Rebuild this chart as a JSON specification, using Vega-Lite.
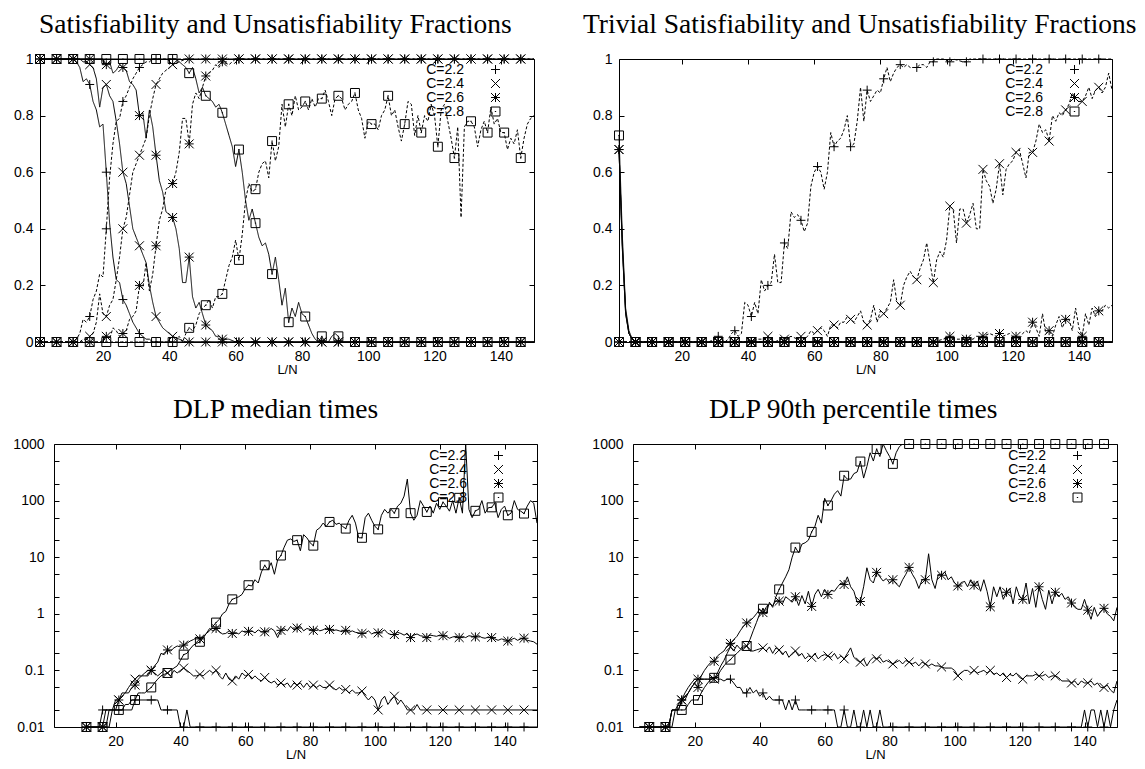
{
"$schema": "https://vega.github.io/schema/vega-lite/v6.json",
"padding": {"left": 12, "top": 10, "right": 2, "bottom": 2},
"config": {
  "view": {"stroke": "black", "strokeWidth": 1},
  "font": "Liberation Sans",
  "axis": {"domain": false, "grid": false, "tickColor": "black", "tickSize": -5, "tickWidth": 1, "labelFont": "Liberation Sans", "labelFontSize": 14, "labelColor": "black", "labelPadding": 12, "titleFont": "Liberation Sans", "titleFontSize": 13, "titleFontWeight": "normal", "titleColor": "black", "titlePadding": 0, "labelFlush": false, "labelOverlap": false, "minExtent": 0, "domainColor": "black", "domainWidth": 1},
  "title": {"font": "Liberation Serif", "fontSize": 27.5, "fontWeight": "normal", "color": "black", "baseline": "alphabetic", "offset": 14, "anchor": "start", "frame": "group"},
  "legend": {"labelFont": "Liberation Sans", "labelFontSize": 14, "labelColor": "black", "labelAlign": "right", "symbolOffset": 80, "labelOffset": -38.5, "rowPadding": 0, "padding": 0, "symbolSize": 80, "symbolStrokeWidth": 1, "symbolStrokeColor": "black", "symbolFillColor": "transparent"}
},
"datasets": {
"p1": [
{"x":1,"u22":1,"s22":0,"u24":1,"s24":0,"u26":1,"s26":0,"u28":1,"s28":0},
{"x":6,"u22":1,"s22":0,"u24":1,"s24":0,"u26":1,"s26":0,"u28":1,"s28":0},
{"x":11,"u22":1,"s22":0,"u24":1,"s24":0,"u26":1,"s26":0,"u28":1,"s28":0},
{"x":12,"u22":0.99,"s22":0.01},
{"x":13,"u22":0.97,"s22":0.03,"u24":1,"s24":0},
{"x":14,"u22":0.92,"s22":0.08,"u24":0.99,"s24":0.01},
{"x":15,"u22":0.93,"s22":0.07,"u24":0.99,"s24":0.01},
{"x":16,"u22":0.91,"s22":0.09,"u24":0.98,"s24":0.02,"u26":1,"s26":0,"u28":1,"s28":0},
{"x":17,"u22":0.85,"s22":0.15,"u24":0.97,"s24":0.03},
{"x":18,"u22":0.82,"s22":0.18,"u24":0.93,"s24":0.07},
{"x":19,"u22":0.76,"s22":0.24,"u24":0.83,"s24":0.17},
{"x":20,"u22":0.77,"s22":0.23,"u24":0.9,"s24":0.1,"u26":1,"s26":0},
{"x":21,"u22":0.6,"s22":0.4,"u24":0.91,"s24":0.09,"u26":0.98,"s26":0.02,"u28":1,"s28":0},
{"x":22,"u22":0.42,"s22":0.58,"u24":0.87,"s24":0.13,"u26":0.99,"s26":0.01},
{"x":23,"u22":0.3,"s22":0.7,"u24":0.85,"s24":0.15,"u26":0.95,"s26":0.05},
{"x":24,"u22":0.22,"s22":0.78,"u24":0.78,"s24":0.22,"u26":0.96,"s26":0.04},
{"x":25,"u22":0.21,"s22":0.79,"u24":0.7,"s24":0.3,"u26":0.98,"s26":0.02},
{"x":26,"u22":0.15,"s22":0.85,"u24":0.6,"s24":0.4,"u26":0.97,"s26":0.03,"u28":1,"s28":0},
{"x":27,"u22":0.13,"s22":0.87,"u24":0.56,"s24":0.44,"u26":0.96,"s26":0.04},
{"x":28,"u22":0.1,"s22":0.9,"u24":0.48,"s24":0.52,"u26":0.92,"s26":0.08},
{"x":29,"u22":0.07,"s22":0.93,"u24":0.4,"s24":0.6,"u26":0.91,"s26":0.09},
{"x":30,"u22":0.05,"s22":0.95,"u24":0.37,"s24":0.63,"u26":0.89,"s26":0.11},
{"x":31,"u22":0.03,"s22":0.97,"u24":0.34,"s24":0.66,"u26":0.8,"s26":0.2,"u28":1,"s28":0},
{"x":32,"u22":0.02,"s22":0.98,"u24":0.31,"s24":0.69,"u26":0.81,"s26":0.19},
{"x":33,"u22":0.01,"s22":0.99,"u24":0.28,"s24":0.72,"u26":0.72,"s26":0.28},
{"x":34,"u22":0.01,"s22":0.99,"u24":0.2,"s24":0.8,"u26":0.82,"s26":0.18},
{"x":35,"u22":0,"s22":1,"u24":0.14,"s24":0.86,"u26":0.76,"s26":0.24},
{"x":36,"u22":0,"s22":1,"u24":0.09,"s24":0.91,"u26":0.66,"s26":0.34,"u28":1,"s28":0},
{"x":37,"u24":0.07,"s24":0.93,"u26":0.57,"s26":0.43},
{"x":38,"u24":0.05,"s24":0.95,"u26":0.53,"s26":0.47},
{"x":39,"u24":0.04,"s24":0.96,"u26":0.46,"s26":0.54},
{"x":40,"u24":0.03,"s24":0.97,"u26":0.45,"s26":0.55},
{"x":41,"u22":0,"s22":1,"u24":0.02,"s24":0.98,"u26":0.44,"s26":0.56,"u28":1,"s28":0},
{"x":42,"u26":0.4,"s26":0.6,"u28":1,"s28":0.01},
{"x":43,"u24":0.01,"s24":0.99,"u26":0.33,"s26":0.67,"u28":0.99,"s28":0.02},
{"x":44,"u26":0.21,"s26":0.79,"u28":0.98,"s28":0},
{"x":45,"u24":0,"s24":1,"u26":0.21,"s26":0.79,"u28":0.97,"s28":0.03},
{"x":46,"u22":0,"s22":1,"u24":0,"s24":1,"u26":0.3,"s26":0.7,"u28":0.95,"s28":0.05},
{"x":47,"u26":0.16,"s26":0.84,"u28":0.97,"s28":0.04},
{"x":48,"u26":0.12,"s26":0.88,"u28":0.93,"s28":0.06},
{"x":49,"u26":0.14,"s26":0.86,"u28":0.88,"s28":0.1},
{"x":50,"u26":0.1,"s26":0.9,"u28":0.9,"s28":0.12},
{"x":51,"u22":0,"s22":1,"u24":0,"s24":1,"u26":0.06,"s26":0.94,"u28":0.87,"s28":0.13},
{"x":52,"u26":0.05,"s26":0.95,"u28":0.86,"s28":0.15},
{"x":53,"u26":0.04,"s26":0.96,"u28":0.85,"s28":0.12},
{"x":54,"u26":0.02,"s26":0.98,"u28":0.83,"s28":0.16},
{"x":55,"u26":0.02,"s26":0.97,"u28":0.84,"s28":0.16},
{"x":56,"u22":0,"s22":1,"u24":0,"s24":1,"u26":0.01,"s26":0.99,"u28":0.81,"s28":0.17},
{"x":57,"u28":0.77,"s28":0.22},
{"x":58,"u26":0.01,"s26":0.98,"u28":0.73,"s28":0.27},
{"x":59,"u28":0.69,"s28":0.3},
{"x":60,"u26":0,"s26":1,"u28":0.62,"s28":0.36},
{"x":61,"u22":0,"s22":1,"u24":0,"s24":1,"u26":0,"s26":1,"u28":0.68,"s28":0.29},
{"x":62,"u28":0.6,"s28":0.38},
{"x":63,"u28":0.5,"s28":0.5},
{"x":64,"u28":0.43,"s28":0.56},
{"x":65,"u28":0.47,"s28":0.53},
{"x":66,"u22":0,"s22":1,"u24":0,"s24":1,"u26":0,"s26":1,"u28":0.42,"s28":0.54},
{"x":67,"u28":0.37,"s28":0.6},
{"x":68,"u28":0.34,"s28":0.63},
{"x":69,"u28":0.35,"s28":0.64},
{"x":70,"u28":0.31,"s28":0.58},
{"x":71,"u22":0,"s22":1,"u24":0,"s24":1,"u26":0,"s26":1,"u28":0.24,"s28":0.71},
{"x":72,"u28":0.3,"s28":0.64},
{"x":73,"u28":0.22,"s28":0.69},
{"x":74,"u28":0.13,"s28":0.84},
{"x":75,"u28":0.19,"s28":0.76},
{"x":76,"u22":0,"s22":1,"u24":0,"s24":1,"u26":0,"s26":1,"u28":0.07,"s28":0.84},
{"x":77,"u28":0.12,"s28":0.8},
{"x":78,"u28":0.09,"s28":0.87},
{"x":79,"u28":0.14,"s28":0.82},
{"x":80,"u28":0.1,"s28":0.83},
{"x":81,"u22":0,"s22":1,"u24":0,"s24":1,"u26":0,"s26":1,"u28":0.09,"s28":0.85},
{"x":82,"u28":0.06,"s28":0.82},
{"x":83,"u28":0.03,"s28":0.86},
{"x":84,"u28":0.01,"s28":0.83},
{"x":85,"u28":0,"s28":0.86},
{"x":86,"u22":0,"s22":1,"u24":0,"s24":1,"u26":0,"s26":1,"u28":0.02,"s28":0.86},
{"x":87,"u28":0,"s28":0.89},
{"x":88,"u28":0,"s28":0.85},
{"x":89,"u28":0.02,"s28":0.8},
{"x":90,"u28":0.03,"s28":0.86},
{"x":91,"u22":0,"s22":1,"u24":0,"s24":1,"u26":0,"s26":1,"u28":0.02,"s28":0.87},
{"x":92,"u28":0,"s28":0.86},
{"x":93,"s28":0.82},
{"x":94,"s28":0.84},
{"x":95,"s28":0.85},
{"x":96,"u22":0,"s22":1,"u24":0,"s24":1,"u26":0,"s26":1,"u28":0,"s28":0.88},
{"x":97,"s28":0.82},
{"x":98,"s28":0.79},
{"x":99,"s28":0.72},
{"x":100,"s28":0.78},
{"x":101,"u22":0,"s22":1,"u24":0,"s24":1,"u26":0,"s26":1,"u28":0,"s28":0.77},
{"x":102,"s28":0.77},
{"x":103,"s28":0.75},
{"x":104,"s28":0.8},
{"x":105,"s28":0.82},
{"x":106,"u22":0,"s22":1,"u24":0,"s24":1,"u26":0,"s26":1,"u28":0,"s28":0.87},
{"x":107,"s28":0.8},
{"x":108,"s28":0.82},
{"x":109,"s28":0.76},
{"x":110,"s28":0.71},
{"x":111,"u22":0,"s22":1,"u24":0,"s24":1,"u26":0,"s26":1,"u28":0,"s28":0.77},
{"x":112,"s28":0.85},
{"x":113,"s28":0.84},
{"x":114,"s28":0.73},
{"x":115,"s28":0.8},
{"x":116,"u22":0,"s22":1,"u24":0,"s24":1,"u26":0,"s26":1,"u28":0,"s28":0.74},
{"x":117,"s28":0.8},
{"x":118,"s28":0.78},
{"x":119,"s28":0.84},
{"x":120,"s28":0.8},
{"x":121,"u22":0,"s22":1,"u24":0,"s24":1,"u26":0,"s26":1,"u28":0,"s28":0.69},
{"x":122,"s28":0.82},
{"x":123,"s28":0.84},
{"x":124,"s28":0.78},
{"x":125,"s28":0.72},
{"x":126,"u22":0,"s22":1,"u24":0,"s24":1,"u26":0,"s26":1,"u28":0,"s28":0.65},
{"x":127,"s28":0.76},
{"x":128,"s28":0.44},
{"x":129,"s28":0.76},
{"x":130,"s28":0.78},
{"x":131,"u22":0,"s22":1,"u24":0,"s24":1,"u26":0,"s26":1,"u28":0,"s28":0.78},
{"x":132,"s28":0.76},
{"x":133,"s28":0.69},
{"x":134,"s28":0.75},
{"x":135,"s28":0.78},
{"x":136,"u22":0,"s22":1,"u24":0,"s24":1,"u26":0,"s26":1,"u28":0,"s28":0.74},
{"x":137,"s28":0.83},
{"x":138,"s28":0.77},
{"x":139,"s28":0.79},
{"x":140,"s28":0.74},
{"x":141,"u22":0,"s22":1,"u24":0,"s24":1,"u26":0,"s26":1,"u28":0,"s28":0.74},
{"x":142,"s28":0.68},
{"x":143,"s28":0.72},
{"x":144,"s28":0.7},
{"x":145,"s28":0.75},
{"x":146,"u22":0,"s22":1,"u24":0,"s24":1,"u26":0,"s26":1,"u28":0,"s28":0.65},
{"x":147,"s28":0.72},
{"x":148,"s28":0.77},
{"x":149,"s28":0.79},
{"x":150,"u22":0,"s22":1,"u24":0,"s24":1,"u26":0,"s26":1,"u28":0,"s28":0.8}
],
"p2": [
{"x":1,"u22":0.68,"u24":0.68,"u26":0.68,"u28":0.73,"s22":0,"s24":0,"s26":0,"s28":0},
{"x":2,"u22":0.33,"u24":0.34,"u26":0.35,"u28":0.38},
{"x":3,"u22":0.1,"u24":0.1,"u26":0.11,"u28":0.12},
{"x":4,"u22":0.03,"u24":0.03,"u26":0.03,"u28":0.04},
{"x":5,"u22":0.01,"u24":0.01,"u26":0.01,"u28":0.01},
{"x":6,"u22":0,"u24":0,"u26":0,"u28":0,"s22":0,"s24":0,"s26":0,"s28":0},
{"x":11,"u22":0,"u24":0,"u26":0,"u28":0,"s22":0,"s24":0,"s26":0,"s28":0},
{"x":16,"u22":0,"u24":0,"u26":0,"u28":0,"s22":0,"s24":0,"s26":0,"s28":0},
{"x":21,"u22":0,"u24":0,"u26":0,"u28":0,"s22":0,"s24":0,"s26":0,"s28":0},
{"x":26,"u22":0,"u24":0,"u26":0,"u28":0,"s22":0,"s24":0,"s26":0,"s28":0},
{"x":28,"s22":0},
{"x":30,"s22":0.01},
{"x":31,"u22":0,"u24":0,"u26":0,"u28":0,"s22":0.02,"s24":0,"s26":0,"s28":0},
{"x":32,"s22":0.01},
{"x":33,"s22":0},
{"x":34,"s22":0.01},
{"x":35,"s22":0.03},
{"x":36,"u22":0,"u24":0,"u26":0,"u28":0,"s22":0.04,"s24":0,"s26":0,"s28":0},
{"x":37,"s22":0.02},
{"x":38,"s22":0.03},
{"x":39,"s22":0.14},
{"x":40,"s22":0.13},
{"x":41,"u22":0,"u24":0,"u26":0,"u28":0,"s22":0.09,"s24":0,"s26":0,"s28":0},
{"x":42,"s22":0.14},
{"x":43,"s22":0.1,"s24":0.01},
{"x":44,"s22":0.22},
{"x":45,"s22":0.18,"s24":0.01},
{"x":46,"u22":0,"u24":0,"u26":0,"u28":0,"s22":0.2,"s24":0.02,"s26":0,"s28":0},
{"x":47,"s22":0.21,"s24":0.01},
{"x":48,"s22":0.31,"s24":0},
{"x":49,"s22":0.21},
{"x":50,"s22":0.21,"s24":0.01},
{"x":51,"u22":0,"u24":0,"u26":0,"u28":0,"s22":0.35,"s24":0.01,"s26":0,"s28":0},
{"x":52,"s22":0.33},
{"x":53,"s22":0.46,"s24":0.02},
{"x":54,"s22":0.44},
{"x":55,"s22":0.45,"s24":0.01},
{"x":56,"u22":0,"u24":0,"u26":0,"u28":0,"s22":0.43,"s24":0.02,"s26":0,"s28":0},
{"x":57,"s22":0.39,"s24":0.01},
{"x":58,"s22":0.42,"s24":0.02},
{"x":59,"s22":0.55,"s24":0.04},
{"x":60,"s22":0.6,"s24":0.03},
{"x":61,"u22":0,"u24":0,"u26":0,"u28":0,"s22":0.62,"s24":0.04,"s26":0,"s28":0},
{"x":62,"s22":0.6,"s24":0.05},
{"x":63,"s22":0.54,"s24":0.04},
{"x":64,"s22":0.6,"s24":0.02},
{"x":65,"s22":0.74,"s24":0.06},
{"x":66,"u22":0,"u24":0,"u26":0,"u28":0,"s22":0.69,"s24":0.06,"s26":0,"s28":0},
{"x":67,"s22":0.71,"s24":0.05},
{"x":68,"s22":0.72,"s24":0.07},
{"x":69,"s22":0.75,"s24":0.07},
{"x":70,"s22":0.8,"s24":0.09},
{"x":71,"u22":0,"u24":0,"u26":0,"u28":0,"s22":0.69,"s24":0.08,"s26":0,"s28":0},
{"x":72,"s22":0.7,"s24":0.07},
{"x":73,"s22":0.78,"s24":0.09},
{"x":74,"s22":0.9,"s24":0.11},
{"x":75,"s22":0.78,"s24":0.07},
{"x":76,"u22":0,"u24":0,"u26":0,"u28":0,"s22":0.89,"s24":0.06,"s26":0,"s28":0},
{"x":77,"s22":0.85,"s24":0.08},
{"x":78,"s22":0.87,"s24":0.13},
{"x":79,"s22":0.89,"s24":0.07},
{"x":80,"s22":0.88,"s24":0.11},
{"x":81,"u22":0,"u24":0,"u26":0,"u28":0,"s22":0.93,"s24":0.1,"s26":0,"s28":0},
{"x":82,"s22":0.97,"s24":0.12},
{"x":83,"s22":0.92,"s24":0.14},
{"x":84,"s22":0.95,"s24":0.22},
{"x":85,"s22":0.97,"s24":0.14},
{"x":86,"u22":0,"u24":0,"u26":0,"u28":0,"s22":0.98,"s24":0.13,"s26":0,"s28":0},
{"x":87,"s22":0.97,"s24":0.2},
{"x":88,"s22":0.98,"s24":0.23},
{"x":89,"s22":0.97,"s24":0.25},
{"x":90,"s22":0.97,"s24":0.23},
{"x":91,"u22":0,"u24":0,"u26":0,"u28":0,"s22":0.97,"s24":0.22,"s26":0,"s28":0},
{"x":92,"s22":0.98,"s24":0.26},
{"x":93,"s22":0.98,"s24":0.29},
{"x":94,"s22":0.97,"s24":0.35},
{"x":95,"s22":0.99,"s24":0.28},
{"x":96,"u22":0,"u24":0,"u26":0,"u28":0,"s22":0.99,"s24":0.21,"s26":0,"s28":0},
{"x":97,"s22":1,"s24":0.29},
{"x":98,"s24":0.32},
{"x":99,"s22":1,"s24":0.3,"s26":0.01},
{"x":100,"s24":0.36},
{"x":101,"u22":0,"u24":0,"u26":0,"u28":0,"s22":0.99,"s24":0.48,"s26":0.02,"s28":0},
{"x":102,"s22":1,"s24":0.47,"s26":0.01},
{"x":103,"s24":0.35},
{"x":104,"s24":0.47,"s26":0.01},
{"x":105,"s22":0.99,"s24":0.47},
{"x":106,"u22":0,"u24":0,"u26":0,"u28":0,"s22":0.99,"s24":0.42,"s26":0.01,"s28":0},
{"x":107,"s22":1,"s24":0.45},
{"x":108,"s24":0.49,"s26":0.01},
{"x":109,"s24":0.4,"s26":0.02},
{"x":110,"s24":0.4},
{"x":111,"u22":0,"u24":0,"u26":0,"u28":0,"s22":1,"s24":0.61,"s26":0.02,"s28":0},
{"x":112,"s24":0.57},
{"x":113,"s24":0.55,"s26":0.03},
{"x":114,"s24":0.49},
{"x":115,"s24":0.54,"s26":0.02},
{"x":116,"u22":0,"u24":0,"u26":0,"u28":0,"s22":1,"s24":0.63,"s26":0.03,"s28":0},
{"x":117,"s24":0.52,"s26":0.02},
{"x":118,"s24":0.61},
{"x":119,"s24":0.63,"s26":0.03},
{"x":120,"s24":0.64,"s26":0.02},
{"x":121,"u22":0,"u24":0,"u26":0,"u28":0,"s22":1,"s24":0.67,"s26":0.02,"s28":0},
{"x":122,"s24":0.68,"s26":0.01},
{"x":123,"s24":0.63,"s26":0.03},
{"x":124,"s24":0.58,"s26":0.04},
{"x":125,"s24":0.67,"s26":0.03},
{"x":126,"u22":0,"u24":0,"u26":0,"u28":0,"s22":1,"s24":0.67,"s26":0.07,"s28":0},
{"x":127,"s24":0.71,"s26":0.05},
{"x":128,"s24":0.77,"s26":0.02},
{"x":129,"s24":0.74,"s26":0.1},
{"x":130,"s24":0.75,"s26":0.03},
{"x":131,"u22":0,"u24":0,"u26":0,"u28":0,"s22":1,"s24":0.71,"s26":0.04,"s28":0},
{"x":132,"s24":0.8,"s26":0.02},
{"x":133,"s24":0.78,"s26":0.06},
{"x":134,"s24":0.81,"s26":0.09},
{"x":135,"s24":0.8,"s26":0.05},
{"x":136,"u22":0,"u24":0,"u26":0,"u28":0,"s22":1,"s24":0.82,"s26":0.08,"s28":0},
{"x":137,"s24":0.84,"s26":0.08},
{"x":138,"s24":0.88,"s26":0.04},
{"x":139,"s24":0.86,"s26":0.12},
{"x":140,"s24":0.85,"s26":0.05},
{"x":141,"u22":0,"u24":0,"u26":0,"u28":0,"s22":1,"s24":0.85,"s26":0.02,"s28":0},
{"x":142,"s24":0.87,"s26":0.1},
{"x":143,"s24":0.9,"s26":0.06},
{"x":144,"s24":0.86,"s26":0.12},
{"x":145,"s24":0.89,"s26":0.09},
{"x":146,"u22":0,"u24":0,"u26":0,"u28":0,"s22":1,"s24":0.9,"s26":0.11,"s28":0},
{"x":147,"s24":0.88,"s26":0.11},
{"x":148,"s24":0.9,"s26":0.13},
{"x":149,"s24":0.95,"s26":0.12},
{"x":150,"u22":0,"u24":0,"u26":0,"u28":0,"s22":1,"s24":0.89,"s26":0.13,"s28":0}
],
"p3": [
{"x":11,"u22":0.01,"u24":0.01,"u26":0.01,"u28":0.01},
{"x":15,"u22":0.01},
{"x":16,"u22":0.02,"u24":0.01,"u26":0.01,"u28":0.01},
{"x":17,"u24":0.02,"u26":0.01},
{"x":18,"u26":0.02,"u28":0.01},
{"x":19,"u24":0.02,"u28":0.02},
{"x":20,"u24":0.03,"u26":0.02},
{"x":21,"u22":0.02,"u24":0.03,"u26":0.03,"u28":0.02},
{"x":22,"u24":0.04,"u26":0.035,"u28":0.02},
{"x":23,"u24":0.04,"u26":0.04,"u28":0.025},
{"x":24,"u24":0.05,"u26":0.04,"u28":0.025},
{"x":25,"u22":0.02,"u24":0.06,"u26":0.05,"u28":0.03},
{"x":26,"u22":0.03,"u24":0.07,"u26":0.055,"u28":0.03},
{"x":27,"u24":0.08,"u26":0.07,"u28":0.04},
{"x":28,"u24":0.08,"u26":0.08,"u28":0.04},
{"x":29,"u24":0.08,"u26":0.09,"u28":0.04},
{"x":30,"u24":0.08,"u26":0.1,"u28":0.045},
{"x":31,"u22":0.03,"u24":0.1,"u26":0.1,"u28":0.05},
{"x":32,"u24":0.09,"u26":0.12,"u28":0.06},
{"x":33,"u22":0.03,"u24":0.08,"u26":0.14,"u28":0.07},
{"x":34,"u22":0.02,"u24":0.09,"u26":0.2,"u28":0.08},
{"x":35,"u24":0.1,"u26":0.19,"u28":0.085},
{"x":36,"u22":0.02,"u24":0.09,"u26":0.23,"u28":0.09},
{"x":37,"u24":0.08,"u26":0.22,"u28":0.1},
{"x":38,"u24":0.1,"u26":0.25,"u28":0.11},
{"x":39,"u22":0.02,"u24":0.09,"u26":0.27,"u28":0.12},
{"x":40,"u22":0.01,"u24":0.1,"u26":0.26,"u28":0.15},
{"x":41,"u22":0.01,"u24":0.11,"u26":0.28,"u28":0.19},
{"x":42,"u22":0.02,"u24":0.1,"u26":0.3,"u28":0.2},
{"x":43,"u22":0.01,"u24":0.09,"u26":0.33,"u28":0.24},
{"x":44,"u24":0.08,"u26":0.35,"u28":0.28},
{"x":45,"u24":0.08,"u26":0.38,"u28":0.3},
{"x":46,"u22":0.01,"u24":0.085,"u26":0.36,"u28":0.32},
{"x":47,"u24":0.08,"u26":0.38,"u28":0.38},
{"x":48,"u24":0.09,"u26":0.45,"u28":0.45},
{"x":49,"u24":0.1,"u26":0.55,"u28":0.5},
{"x":50,"u24":0.09,"u26":0.5,"u28":0.6},
{"x":51,"u22":0.01,"u24":0.1,"u26":0.55,"u28":0.7},
{"x":52,"u24":0.08,"u26":0.48,"u28":0.8},
{"x":53,"u24":0.07,"u26":0.44,"u28":1},
{"x":54,"u24":0.09,"u26":0.45,"u28":1.1},
{"x":55,"u24":0.07,"u26":0.5,"u28":1.5},
{"x":56,"u22":0.01,"u24":0.065,"u26":0.45,"u28":1.8},
{"x":57,"u24":0.08,"u26":0.47,"u28":1.9},
{"x":58,"u24":0.07,"u26":0.44,"u28":2},
{"x":59,"u24":0.09,"u26":0.5,"u28":2.2},
{"x":60,"u24":0.08,"u26":0.47,"u28":2.8},
{"x":61,"u22":0.01,"u24":0.085,"u26":0.49,"u28":3.2},
{"x":62,"u24":0.07,"u26":0.5,"u28":3.1},
{"x":63,"u24":0.08,"u26":0.46,"u28":4},
{"x":64,"u24":0.07,"u26":0.52,"u28":3.5},
{"x":65,"u24":0.065,"u26":0.48,"u28":5.5},
{"x":66,"u22":0.01,"u24":0.075,"u26":0.48,"u28":7.2},
{"x":67,"u24":0.065,"u26":0.5,"u28":6},
{"x":68,"u24":0.06,"u26":0.55,"u28":8},
{"x":69,"u24":0.065,"u26":0.5,"u28":5},
{"x":70,"u24":0.055,"u26":0.38,"u28":9},
{"x":71,"u22":0.01,"u24":0.06,"u26":0.51,"u28":10.7},
{"x":72,"u24":0.055,"u26":0.55,"u28":15},
{"x":73,"u24":0.06,"u26":0.5,"u28":20},
{"x":74,"u24":0.05,"u26":0.6,"u28":21},
{"x":75,"u24":0.06,"u26":0.52,"u28":19},
{"x":76,"u22":0.01,"u24":0.055,"u26":0.56,"u28":20},
{"x":77,"u24":0.06,"u26":0.6,"u28":13},
{"x":78,"u24":0.05,"u26":0.5,"u28":25},
{"x":79,"u24":0.06,"u26":0.55,"u28":22},
{"x":80,"u24":0.05,"u26":0.53,"u28":18},
{"x":81,"u22":0.01,"u24":0.055,"u26":0.51,"u28":16},
{"x":82,"u24":0.05,"u26":0.55,"u28":30},
{"x":83,"u24":0.055,"u26":0.5,"u28":33},
{"x":84,"u24":0.05,"u26":0.52,"u28":40},
{"x":85,"u24":0.05,"u26":0.56,"u28":35},
{"x":86,"u22":0.01,"u24":0.055,"u26":0.53,"u28":42},
{"x":87,"u24":0.05,"u26":0.5,"u28":45},
{"x":88,"u24":0.045,"u26":0.52,"u28":38},
{"x":89,"u24":0.05,"u26":0.5,"u28":40},
{"x":90,"u24":0.045,"u26":0.48,"u28":35},
{"x":91,"u22":0.01,"u24":0.046,"u26":0.51,"u28":32},
{"x":92,"u24":0.04,"u26":0.47,"u28":45},
{"x":93,"u24":0.045,"u26":0.5,"u28":55},
{"x":94,"u24":0.04,"u26":0.47,"u28":40},
{"x":95,"u24":0.04,"u26":0.46,"u28":22},
{"x":96,"u22":0.01,"u24":0.043,"u26":0.45,"u28":22},
{"x":97,"u24":0.035,"u26":0.46,"u28":50},
{"x":98,"u24":0.03,"u26":0.5,"u28":60},
{"x":99,"u24":0.035,"u26":0.44,"u28":45},
{"x":100,"u24":0.03,"u26":0.47,"u28":35},
{"x":101,"u22":0.01,"u24":0.02,"u26":0.46,"u28":31},
{"x":102,"u24":0.03,"u26":0.48,"u28":55},
{"x":103,"u24":0.035,"u26":0.52,"u28":70},
{"x":104,"u24":0.025,"u26":0.45,"u28":60},
{"x":105,"u24":0.03,"u26":0.43,"u28":70},
{"x":106,"u22":0.01,"u24":0.035,"u26":0.43,"u28":60},
{"x":107,"u24":0.025,"u26":0.47,"u28":80},
{"x":108,"u24":0.03,"u26":0.45,"u28":90},
{"x":109,"u24":0.025,"u26":0.42,"u28":120},
{"x":110,"u24":0.02,"u26":0.45,"u28":240},
{"x":111,"u22":0.01,"u24":0.02,"u26":0.38,"u28":60},
{"x":112,"u24":0.02,"u26":0.42,"u28":45},
{"x":113,"u24":0.025,"u26":0.44,"u28":55},
{"x":114,"u24":0.02,"u26":0.41,"u28":100},
{"x":115,"u24":0.02,"u26":0.4,"u28":80},
{"x":116,"u22":0.01,"u24":0.02,"u26":0.38,"u28":63},
{"x":117,"u26":0.42,"u28":80},
{"x":118,"u26":0.41,"u28":60},
{"x":119,"u26":0.4,"u28":90},
{"x":120,"u26":0.42,"u28":70},
{"x":121,"u22":0.01,"u24":0.02,"u26":0.41,"u28":94},
{"x":122,"u26":0.4,"u28":80},
{"x":123,"u26":0.37,"u28":65},
{"x":124,"u26":0.39,"u28":100},
{"x":125,"u26":0.4,"u28":60},
{"x":126,"u22":0.01,"u24":0.02,"u26":0.38,"u28":112},
{"x":127,"u26":0.4,"u28":60},
{"x":128,"u26":0.38,"u28":1000},
{"x":129,"u26":0.41,"u28":70},
{"x":130,"u26":0.4,"u28":50},
{"x":131,"u22":0.01,"u24":0.02,"u26":0.39,"u28":66},
{"x":132,"u26":0.41,"u28":70},
{"x":133,"u26":0.38,"u28":100},
{"x":134,"u26":0.37,"u28":60},
{"x":135,"u26":0.39,"u28":75},
{"x":136,"u22":0.01,"u24":0.02,"u26":0.38,"u28":76},
{"x":137,"u26":0.36,"u28":90},
{"x":138,"u26":0.34,"u28":50},
{"x":139,"u26":0.36,"u28":70},
{"x":140,"u26":0.35,"u28":80},
{"x":141,"u22":0.01,"u24":0.02,"u26":0.33,"u28":55},
{"x":142,"u26":0.35,"u28":60},
{"x":143,"u26":0.37,"u28":100},
{"x":144,"u26":0.34,"u28":70},
{"x":145,"u26":0.36,"u28":65},
{"x":146,"u22":0.01,"u24":0.02,"u26":0.37,"u28":59},
{"x":147,"u26":0.34,"u28":80},
{"x":148,"u26":0.33,"u28":100},
{"x":149,"u26":0.32,"u28":90},
{"x":150,"u22":0.01,"u24":0.02,"u26":0.29,"u28":40}
],
"p4": [
{"x":3,"u22":0.01,"u24":0.01,"u26":0.01,"u28":0.01},
{"x":6,"u22":0.01,"u24":0.01,"u26":0.01,"u28":0.01},
{"x":11,"u22":0.01,"u24":0.01,"u26":0.01,"u28":0.01},
{"x":12,"u22":0.01,"u24":0.01,"u26":0.01,"u28":0.01},
{"x":13,"u22":0.02,"u24":0.02,"u26":0.02,"u28":0.01},
{"x":14,"u22":0.02,"u24":0.02,"u26":0.02,"u28":0.02},
{"x":15,"u22":0.02,"u24":0.025,"u26":0.02,"u28":0.02},
{"x":16,"u22":0.03,"u24":0.03,"u26":0.03,"u28":0.02},
{"x":17,"u22":0.04,"u24":0.035,"u26":0.03,"u28":0.02},
{"x":18,"u22":0.05,"u24":0.04,"u26":0.04,"u28":0.025},
{"x":19,"u22":0.06,"u24":0.05,"u26":0.05,"u28":0.03},
{"x":20,"u22":0.07,"u24":0.06,"u26":0.06,"u28":0.03},
{"x":21,"u22":0.07,"u24":0.07,"u26":0.05,"u28":0.03},
{"x":22,"u22":0.07,"u24":0.07,"u26":0.08,"u28":0.04},
{"x":23,"u22":0.07,"u24":0.07,"u26":0.1,"u28":0.05},
{"x":24,"u22":0.07,"u24":0.07,"u26":0.12,"u28":0.06},
{"x":25,"u22":0.07,"u24":0.07,"u26":0.14,"u28":0.07},
{"x":26,"u22":0.075,"u24":0.07,"u26":0.145,"u28":0.074},
{"x":27,"u22":0.07,"u24":0.09,"u26":0.18,"u28":0.08},
{"x":28,"u22":0.07,"u24":0.12,"u26":0.2,"u28":0.1},
{"x":29,"u22":0.065,"u24":0.15,"u26":0.22,"u28":0.12},
{"x":30,"u22":0.07,"u24":0.2,"u26":0.27,"u28":0.14},
{"x":31,"u22":0.07,"u24":0.26,"u26":0.3,"u28":0.155},
{"x":32,"u22":0.06,"u24":0.22,"u26":0.35,"u28":0.18},
{"x":33,"u22":0.05,"u24":0.28,"u26":0.4,"u28":0.2},
{"x":34,"u22":0.05,"u24":0.24,"u26":0.5,"u28":0.23},
{"x":35,"u22":0.04,"u24":0.27,"u26":0.6,"u28":0.25},
{"x":36,"u22":0.04,"u24":0.27,"u26":0.69,"u28":0.27},
{"x":37,"u22":0.05,"u24":0.22,"u26":0.75,"u28":0.35},
{"x":38,"u22":0.04,"u24":0.22,"u26":0.85,"u28":0.5},
{"x":39,"u22":0.045,"u24":0.23,"u26":1,"u28":0.7},
{"x":40,"u22":0.035,"u24":0.24,"u26":1.2,"u28":1},
{"x":41,"u22":0.04,"u24":0.25,"u26":1.05,"u28":1.23},
{"x":42,"u22":0.03,"u24":0.22,"u26":1.3,"u28":1},
{"x":43,"u22":0.035,"u24":0.26,"u26":1.5,"u28":1.6},
{"x":44,"u22":0.03,"u24":0.2,"u26":1.4,"u28":1.3},
{"x":45,"u22":0.03,"u24":0.25,"u26":1.7,"u28":2},
{"x":46,"u22":0.03,"u24":0.23,"u26":1.67,"u28":2.7},
{"x":47,"u22":0.03,"u24":0.19,"u26":1.5,"u28":3.5},
{"x":48,"u22":0.02,"u24":0.22,"u26":2,"u28":4.5},
{"x":49,"u22":0.03,"u24":0.17,"u26":1.8,"u28":6},
{"x":50,"u22":0.02,"u24":0.2,"u26":1.6,"u28":10},
{"x":51,"u22":0.03,"u24":0.22,"u26":2,"u28":14.8},
{"x":52,"u22":0.02,"u24":0.18,"u26":1.4,"u28":12},
{"x":53,"u22":0.02,"u24":0.2,"u26":2.1,"u28":17},
{"x":54,"u22":0.02,"u24":0.16,"u26":1.5,"u28":18},
{"x":55,"u22":0.02,"u24":0.18,"u26":2.5,"u28":20},
{"x":56,"u22":0.02,"u24":0.17,"u26":1.35,"u28":28},
{"x":57,"u22":0.02,"u24":0.2,"u26":2.2,"u28":35},
{"x":58,"u22":0.02,"u24":0.16,"u26":2.7,"u28":55},
{"x":59,"u22":0.02,"u24":0.18,"u26":2,"u28":40},
{"x":60,"u22":0.02,"u24":0.19,"u26":2.7,"u28":110},
{"x":61,"u22":0.02,"u24":0.18,"u26":2.2,"u28":82},
{"x":62,"u22":0.02,"u24":0.17,"u26":2.6,"u28":100},
{"x":63,"u22":0.02,"u24":0.2,"u26":2.5,"u28":130},
{"x":64,"u22":0.01,"u24":0.16,"u26":3,"u28":150},
{"x":65,"u22":0.01,"u24":0.18,"u26":3.5,"u28":120},
{"x":66,"u22":0.02,"u24":0.16,"u26":3.3,"u28":275},
{"x":67,"u22":0.01,"u24":0.2,"u26":4.5,"u28":240},
{"x":68,"u22":0.01,"u24":0.25,"u26":3,"u28":240},
{"x":69,"u22":0.02,"u24":0.17,"u26":2.5,"u28":300},
{"x":70,"u22":0.01,"u24":0.15,"u26":1.6,"u28":320},
{"x":71,"u22":0.01,"u24":0.14,"u26":1.65,"u28":490},
{"x":72,"u22":0.02,"u24":0.16,"u26":3,"u28":250},
{"x":73,"u22":0.01,"u24":0.12,"u26":6.5,"u28":400},
{"x":74,"u22":0.02,"u24":0.15,"u26":4,"u28":700},
{"x":75,"u22":0.01,"u24":0.17,"u26":3.5,"u28":500},
{"x":76,"u22":0.01,"u24":0.16,"u26":5.4,"u28":815},
{"x":77,"u22":0.02,"u24":0.17,"u26":4.5,"u28":600},
{"x":78,"u22":0.01,"u24":0.14,"u26":3.8,"u28":1000},
{"x":79,"u24":0.15,"u26":4.2,"u28":760},
{"x":80,"u24":0.14,"u26":3.5,"u28":600},
{"x":81,"u22":0.01,"u24":0.13,"u26":4,"u28":445},
{"x":82,"u24":0.14,"u26":3.4,"u28":700},
{"x":83,"u24":0.15,"u26":3,"u28":900},
{"x":84,"u24":0.13,"u26":4,"u28":1000},
{"x":85,"u24":0.15,"u26":5,"u28":1000},
{"x":86,"u22":0.01,"u24":0.14,"u26":6.6,"u28":1000},
{"x":87,"u24":0.13,"u26":5},
{"x":88,"u24":0.14,"u26":4},
{"x":89,"u24":0.12,"u26":2.8},
{"x":90,"u24":0.14,"u26":4},
{"x":91,"u22":0.01,"u24":0.13,"u26":4,"u28":1000},
{"x":92,"u24":0.12,"u26":11.5},
{"x":93,"u24":0.13,"u26":4},
{"x":94,"u24":0.12,"u26":2.8},
{"x":95,"u24":0.12,"u26":5},
{"x":96,"u22":0.01,"u24":0.115,"u26":4.8,"u28":1000},
{"x":97,"u24":0.11,"u26":5.5},
{"x":98,"u24":0.11,"u26":4},
{"x":99,"u24":0.11,"u26":4.5},
{"x":100,"u24":0.1,"u26":3.5},
{"x":101,"u22":0.01,"u24":0.08,"u26":3.1,"u28":1000},
{"x":102,"u24":0.09,"u26":3.3},
{"x":103,"u24":0.1,"u26":3.8},
{"x":104,"u24":0.1,"u26":3},
{"x":105,"u24":0.09,"u26":4},
{"x":106,"u22":0.01,"u24":0.1,"u26":3.2,"u28":1000},
{"x":107,"u24":0.09,"u26":3.8},
{"x":108,"u24":0.095,"u26":2.5},
{"x":109,"u24":0.1,"u26":4},
{"x":110,"u24":0.09,"u26":2.5},
{"x":111,"u22":0.01,"u24":0.1,"u26":1.33,"u28":1000},
{"x":112,"u24":0.085,"u26":3},
{"x":113,"u24":0.09,"u26":2},
{"x":114,"u24":0.08,"u26":3},
{"x":115,"u24":0.09,"u26":1.8},
{"x":116,"u22":0.01,"u24":0.075,"u26":2.4,"u28":1000},
{"x":117,"u24":0.085,"u26":2.8},
{"x":118,"u24":0.08,"u26":1.5},
{"x":119,"u24":0.09,"u26":3},
{"x":120,"u24":0.075,"u26":2},
{"x":121,"u22":0.01,"u24":0.07,"u26":1.8,"u28":1000},
{"x":122,"u24":0.08,"u26":3.5},
{"x":123,"u24":0.08,"u26":1.5},
{"x":124,"u24":0.08,"u26":2.8},
{"x":125,"u24":0.085,"u26":1.3},
{"x":126,"u22":0.01,"u24":0.08,"u26":3,"u28":1000},
{"x":127,"u24":0.08,"u26":1.8},
{"x":128,"u24":0.085,"u26":1.2},
{"x":129,"u24":0.075,"u26":2.6},
{"x":130,"u24":0.08,"u26":1.5},
{"x":131,"u22":0.01,"u24":0.08,"u26":2.4,"u28":1000},
{"x":132,"u24":0.075,"u26":2},
{"x":133,"u24":0.065,"u26":2.3},
{"x":134,"u24":0.065,"u26":1.8},
{"x":135,"u24":0.065,"u26":2},
{"x":136,"u22":0.01,"u24":0.06,"u26":1.55,"u28":1000},
{"x":137,"u24":0.065,"u26":1.3},
{"x":138,"u24":0.055,"u26":1.2},
{"x":139,"u22":0.01,"u24":0.065,"u26":1.2},
{"x":140,"u22":0.02,"u24":0.06,"u26":1.8},
{"x":141,"u22":0.01,"u24":0.06,"u26":1.16,"u28":1000},
{"x":142,"u22":0.02,"u24":0.065,"u26":0.8},
{"x":143,"u22":0.02,"u24":0.055,"u26":1.3},
{"x":144,"u22":0.01,"u24":0.06,"u26":0.9},
{"x":145,"u22":0.02,"u24":0.05,"u26":1.1},
{"x":146,"u22":0.01,"u24":0.05,"u26":1.25,"u28":1000},
{"x":147,"u22":0.02,"u24":0.055,"u26":1},
{"x":148,"u22":0.01,"u24":0.045,"u26":0.9},
{"x":149,"u22":0.02,"u24":0.04,"u26":0.75},
{"x":150,"u22":0.03,"u24":0.065,"u26":1.3,"u28":1000}
]
},
"columns": 1,
"spacing": 18,
"resolve": {"scale": {"shape": "independent"}, "legend": {"shape": "independent"}},
"concat": [
{
"hconcat": [
{
"width": 494, "height": 283,
"title": {"text": "Satisfiability and Unsatisfiability Fractions", "dx": -1},
"data": {"name": "p1"},
"transform": [
  {"fold": ["u22","s22","u24","s24","u26","s26","u28","s28"], "as": ["k","y"]},
  {"filter": "isValid(datum.y)"},
  {"calculate": "'C=' + substring(datum.k,1,2) + '.' + substring(datum.k,2,3)", "as": "c"},
  {"calculate": "substring(datum.k,0,1)", "as": "t"}
],
"layer": [
  {"mark": {"type": "line", "color": "black", "strokeWidth": 1},
   "encoding": {
     "x": {"field": "x", "type": "quantitative", "scale": {"domain": [1,150], "nice": false, "zero": false}, "axis": {"values": [20,40,60,80,100,120,140], "title": "L/N"}},
     "y": {"field": "y", "type": "quantitative", "scale": {"domain": [0,1], "nice": false}, "axis": {"values": [0,0.2,0.4,0.6,0.8,1], "format": "~g", "title": null, "minExtent": 27, "maxExtent": 27}},
     "detail": {"field": "k"},
     "strokeDash": {"field": "t", "type": "nominal", "scale": {"domain": ["s","u"], "range": [[3,2],[1,0]]}, "legend": null}
   }},
  {"transform": [{"filter": "(datum.x - 1) % 5 == 0"}],
   "mark": {"type": "point", "filled": false, "color": "black", "strokeWidth": 1, "size": 80, "opacity": 1},
   "encoding": {
     "x": {"field": "x", "type": "quantitative", "axis": {"orient": "top", "values": [20,40,60,80,100,120,140], "labels": false, "title": null}},
     "y": {"field": "y", "type": "quantitative", "axis": {"orient": "right", "values": [0,0.2,0.4,0.6,0.8,1], "labels": false, "title": null}},
     "shape": {"field": "c", "type": "nominal", "scale": {"domain": ["C=2.2","C=2.4","C=2.6","C=2.8"], "range": ["M-1,0H1M0,-1V1", "M-1,-1L1,1M-1,1L1,-1", "M-1,0H1M0,-1V1M-1,-1L1,1M-1,1L1,-1", "M-1,-1H1V1H-1ZM-0.15,0H0.15"]},
       "legend": {"title": null, "orient": "none", "legendX": 368.5, "legendY": 3.5}}
   }}
],
"resolve": {"axis": {"x": "independent", "y": "independent"}}
},
{
"width": 493, "height": 283,
"title": {"text": "Trivial Satisfiability and Unsatisfiability Fractions", "dx": -36},
"data": {"name": "p2"},
"transform": [
  {"fold": ["u22","s22","u24","s24","u26","s26","u28","s28"], "as": ["k","y"]},
  {"filter": "isValid(datum.y)"},
  {"calculate": "'C=' + substring(datum.k,1,2) + '.' + substring(datum.k,2,3)", "as": "c"},
  {"calculate": "substring(datum.k,0,1)", "as": "t"}
],
"layer": [
  {"mark": {"type": "line", "color": "black", "strokeWidth": 1},
   "encoding": {
     "x": {"field": "x", "type": "quantitative", "scale": {"domain": [1,150], "nice": false, "zero": false}, "axis": {"values": [20,40,60,80,100,120,140], "title": "L/N"}},
     "y": {"field": "y", "type": "quantitative", "scale": {"domain": [0,1], "nice": false}, "axis": {"values": [0,0.2,0.4,0.6,0.8,1], "format": "~g", "title": null, "minExtent": 27, "maxExtent": 27}},
     "detail": {"field": "k"},
     "strokeDash": {"field": "t", "type": "nominal", "scale": {"domain": ["s","u"], "range": [[3,2],[1,0]]}, "legend": null}
   }},
  {"transform": [{"filter": "(datum.x - 1) % 5 == 0"}],
   "mark": {"type": "point", "filled": false, "color": "black", "strokeWidth": 1, "size": 80, "opacity": 1},
   "encoding": {
     "x": {"field": "x", "type": "quantitative", "axis": {"orient": "top", "values": [20,40,60,80,100,120,140], "labels": false, "title": null}},
     "y": {"field": "y", "type": "quantitative", "axis": {"orient": "right", "values": [0,0.2,0.4,0.6,0.8,1], "labels": false, "title": null}},
     "shape": {"field": "c", "type": "nominal", "scale": {"domain": ["C=2.2","C=2.4","C=2.6","C=2.8"], "range": ["M-1,0H1M0,-1V1", "M-1,-1L1,1M-1,1L1,-1", "M-1,0H1M0,-1V1M-1,-1L1,1M-1,1L1,-1", "M-1,-1H1V1H-1ZM-0.15,0H0.15"]},
       "legend": {"title": null, "orient": "none", "legendX": 368.5, "legendY": 3.5}}
   }}
],
"resolve": {"axis": {"x": "independent", "y": "independent"}}
}
],
"spacing": 85,
"bounds": "flush",
"resolve": {"scale": {"shape": "independent"}, "legend": {"shape": "independent"}}
},
{
"hconcat": [
{
"width": 497, "height": 283,
"view": {"stroke": null},
"title": {"text": "DLP median times", "dx": 133},
"data": {"name": "p3"},
"transform": [
  {"fold": ["u22","u24","u26","u28"], "as": ["k","y"]},
  {"filter": "isValid(datum.y)"},
  {"calculate": "'C=' + substring(datum.k,1,2) + '.' + substring(datum.k,2,3)", "as": "c"}
],
"layer": [
  {"mark": {"type": "line", "color": "black", "strokeWidth": 1, "clip": true},
   "encoding": {
     "x": {"field": "x", "type": "quantitative", "scale": {"domain": [1,150], "nice": false, "zero": false, "rangeMin": 14}, "axis": {"values": [20,40,60,80,100,120,140], "title": "L/N", "domain": true}},
     "y": {"field": "y", "type": "quantitative", "scale": {"type": "log", "domain": [0.01,1000], "nice": false}, "axis": {"values": [0.01,0.02,0.05,0.1,0.2,0.5,1,2,5,10,20,50,100,200,500,1000], "labelExpr": "indexof([0.01,0.1,1,10,100,1000], datum.value) >= 0 ? format(datum.value, '~g') : ''", "labelPadding": 15, "title": null, "minExtent": 41, "maxExtent": 41, "offset": -14, "domain": true}},
     "detail": {"field": "k"}
   }},
  {"transform": [{"filter": "(datum.x - 1) % 5 == 0"}],
   "mark": {"type": "point", "filled": false, "color": "black", "strokeWidth": 1, "size": 80, "opacity": 1},
   "encoding": {
     "x": {"field": "x", "type": "quantitative", "axis": {"orient": "top", "values": [20,40,60,80,100,120,140], "labels": false, "title": null, "domain": true}},
     "y": {"field": "y", "type": "quantitative", "axis": {"orient": "right", "values": [0.01,0.02,0.05,0.1,0.2,0.5,1,2,5,10,20,50,100,200,500,1000], "labels": false, "title": null, "domain": true}},
     "shape": {"field": "c", "type": "nominal", "scale": {"domain": ["C=2.2","C=2.4","C=2.6","C=2.8"], "range": ["M-1,0H1M0,-1V1", "M-1,-1L1,1M-1,1L1,-1", "M-1,0H1M0,-1V1M-1,-1L1,1M-1,1L1,-1", "M-1,-1H1V1H-1ZM-0.15,0H0.15"]},
       "legend": {"title": null, "orient": "none", "legendX": 371.5, "legendY": 4.5}}
   }}
],
"resolve": {"axis": {"x": "independent", "y": "independent"}}
},
{
"width": 484, "height": 283,
"title": {"text": "DLP 90th percentile times", "dx": 76},
"data": {"name": "p4"},
"transform": [
  {"fold": ["u22","u24","u26","u28"], "as": ["k","y"]},
  {"filter": "isValid(datum.y)"},
  {"calculate": "'C=' + substring(datum.k,1,2) + '.' + substring(datum.k,2,3)", "as": "c"}
],
"layer": [
  {"mark": {"type": "line", "color": "black", "strokeWidth": 1, "clip": true},
   "encoding": {
     "x": {"field": "x", "type": "quantitative", "scale": {"domain": [1,150], "nice": false, "zero": false}, "axis": {"values": [20,40,60,80,100,120,140], "title": "L/N"}},
     "y": {"field": "y", "type": "quantitative", "scale": {"type": "log", "domain": [0.01,1000], "nice": false}, "axis": {"values": [0.01,0.02,0.05,0.1,0.2,0.5,1,2,5,10,20,50,100,200,500,1000], "labelExpr": "indexof([0.01,0.1,1,10,100,1000], datum.value) >= 0 ? format(datum.value, '~g') : ''", "labelPadding": 15, "title": null, "minExtent": 41, "maxExtent": 41}},
     "detail": {"field": "k"}
   }},
  {"transform": [{"filter": "(datum.x - 1) % 5 == 0"}],
   "mark": {"type": "point", "filled": false, "color": "black", "strokeWidth": 1, "size": 80, "opacity": 1},
   "encoding": {
     "x": {"field": "x", "type": "quantitative", "axis": {"orient": "top", "values": [20,40,60,80,100,120,140], "labels": false, "title": null}},
     "y": {"field": "y", "type": "quantitative", "axis": {"orient": "right", "values": [0.01,0.02,0.05,0.1,0.2,0.5,1,2,5,10,20,50,100,200,500,1000], "labels": false, "title": null}},
     "shape": {"field": "c", "type": "nominal", "scale": {"domain": ["C=2.2","C=2.4","C=2.6","C=2.8"], "range": ["M-1,0H1M0,-1V1", "M-1,-1L1,1M-1,1L1,-1", "M-1,0H1M0,-1V1M-1,-1L1,1M-1,1L1,-1", "M-1,-1H1V1H-1ZM-0.15,0H0.15"]},
       "legend": {"title": null, "orient": "none", "legendX": 357.5, "legendY": 4.5}}
   }}
],
"resolve": {"axis": {"x": "independent", "y": "independent"}}
}
],
"spacing": 96,
"bounds": "flush",
"resolve": {"scale": {"shape": "independent"}, "legend": {"shape": "independent"}}
}
]
}
